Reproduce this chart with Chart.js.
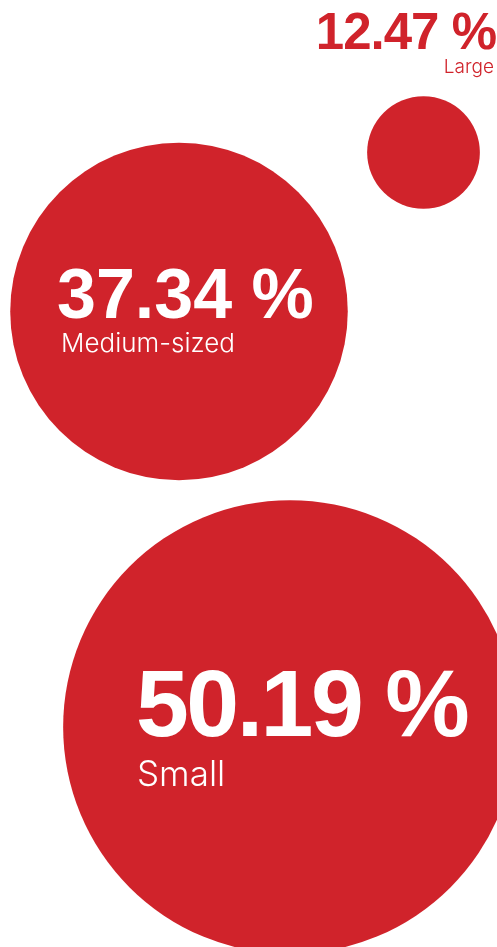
<!DOCTYPE html>
<html>
<head>
<meta charset="utf-8">
<script src="https://cdn.jsdelivr.net/npm/chart.js@4/dist/chart.umd.min.js"></script>
<style>
  html, body { margin: 0; padding: 0; background: #fff; }
  #wrap { width: 497px; height: 947px; position: relative; }
</style>
</head>
<body>
<div id="wrap"><canvas id="bulles"></canvas></div>
<script>
// Donnees
const categories = ['Large', 'Medium-sized', 'Small'];
const shares = [12.47, 37.34, 50.19];

// Mise en page des bulles (centres en pixels, rayon par point de pourcentage)
const centersX = [423.5, 179, 290];
const centersY = [152.5, 311.5, 727];
const pxPerPoint = 4.52;

const red = 'rgb(208, 35, 43)';

// Textes : position, taille et couleur de chaque etiquette
const labelStyle = [
  { align: 'right', numX: 496, numY: 49, numSize: 51, spacing: -1, catX: 494, catY: 73, catSize: 19, color: red },
  { align: 'left', numX: 57, numY: 318, numSize: 70, spacing: 0, catX: 61, catY: 352, catSize: 26, color: '#fff' },
  { align: 'left', numX: 136, numY: 736, numSize: 95, spacing: -2.5, catX: 137, catY: 786, catSize: 35, color: '#fff' }
];

const bubbleData = shares.map((v, i) => ({ x: centersX[i], y: centersY[i], v: v }));

// Plugin qui ecrit les pourcentages et les categories
const bubbleLabels = {
  id: 'bubbleLabels',
  afterDatasetsDraw(chart) {
    const ctx = chart.ctx;
    ctx.save();
    shares.forEach((v, i) => {
      const s = labelStyle[i];
      ctx.fillStyle = s.color;
      ctx.textAlign = s.align;
      ctx.textBaseline = 'alphabetic';
      ctx.letterSpacing = s.spacing + 'px';
      ctx.font = 'bold ' + s.numSize + 'px "Liberation Sans", Arial, sans-serif';
      ctx.fillText(v.toFixed(2) + ' %', s.numX, s.numY);
      ctx.letterSpacing = '0px';
      ctx.font = '300 ' + s.catSize + 'px Inter, "Liberation Sans", sans-serif';
      ctx.fillText(categories[i], s.catX, s.catY);
    });
    ctx.restore();
  }
};

new Chart(document.getElementById('bulles'), {
  type: 'bubble',
  data: {
    datasets: [{
      data: bubbleData,
      backgroundColor: red,
      borderWidth: 0,
      radius: c => c.raw.v * pxPerPoint,
      hoverRadius: 0,
      clip: false
    }]
  },
  options: {
    responsive: true,
    maintainAspectRatio: false,
    animation: false,
    // pas de marge automatique : les bulles peuvent sortir du cadre
    layout: { padding: 0, autoPadding: false },
    plugins: { legend: { display: false }, tooltip: { enabled: false } },
    scales: {
      x: { type: 'linear', display: false, min: 0, max: 497 },
      y: { type: 'linear', display: false, min: 0, max: 947, reverse: true }
    }
  },
  plugins: [bubbleLabels]
});
</script>
</body>
</html>
